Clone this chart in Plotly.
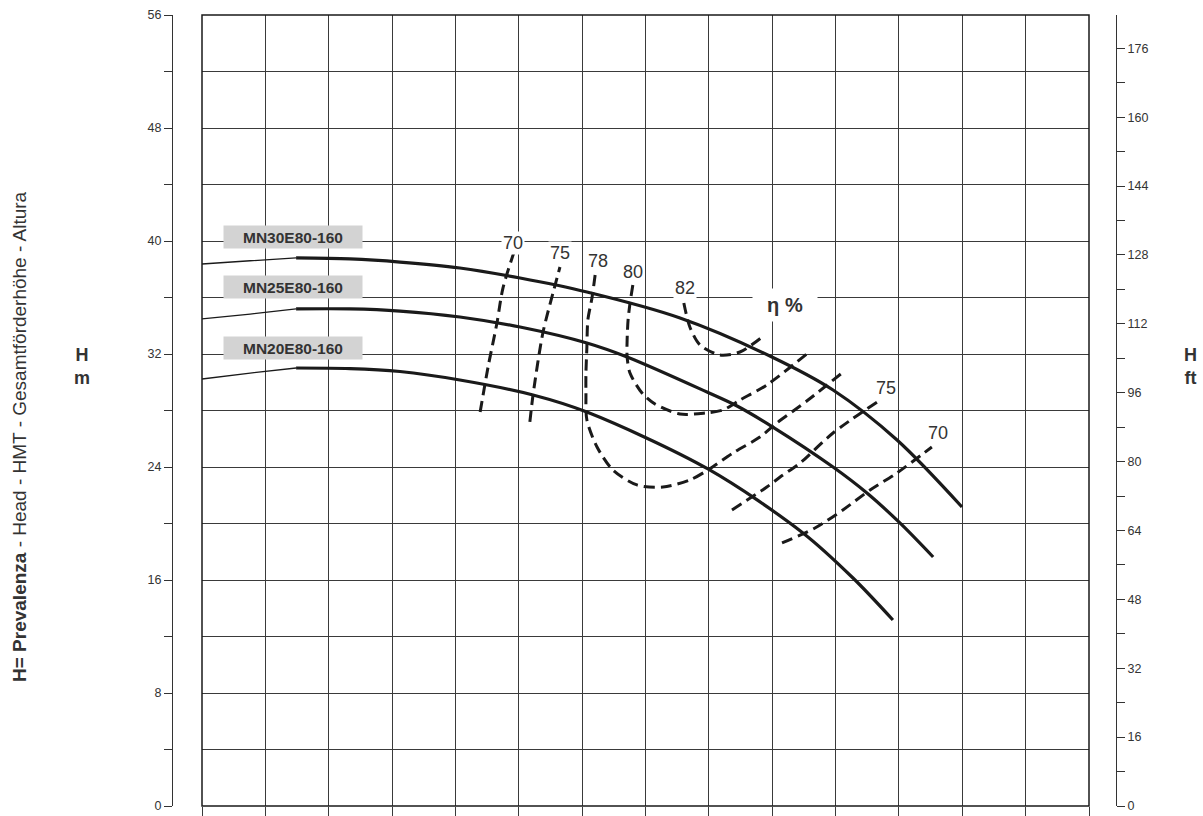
import plotly.graph_objects as go

# ---------------- data (Q in m3/h, H in m) ----------------
models = ["MN30E80-160", "MN25E80-160", "MN20E80-160"]

q_mn30 = [0, 15.2, 29.7, 46.7, 62.5, 81.4, 100.4, 121.5, 150.9, 179.9, 199.2, 219.4, 239.9]
h_mn30 = [38.37, 38.60, 38.80, 38.73, 38.51, 38.09, 37.38, 36.39, 34.55, 31.79, 29.45, 25.91, 21.17]

q_mn25 = [0, 15.2, 29.7, 46.7, 62.5, 81.4, 100.4, 121.5, 134.2, 159.4, 168.9, 180.2, 199.2, 209.9, 220.3, 230.8]
h_mn25 = [34.48, 34.83, 35.19, 35.19, 35.04, 34.62, 33.91, 32.78, 31.79, 29.31, 28.32, 26.83, 24.00, 22.16, 20.04, 17.63]

q_mn20 = [0, 15.2, 29.7, 46.7, 62.5, 81.4, 104.5, 121.5, 159.7, 189.7, 205.5, 218.1]
h_mn20 = [30.23, 30.65, 31.01, 30.97, 30.76, 30.16, 29.10, 27.89, 23.86, 19.33, 16.14, 13.17]

# efficiency iso-lines
q_eff70a = [87.8, 90.3, 93.1, 95.0, 98.5]
h_eff70a = [27.89, 31.08, 34.19, 36.67, 39.22]
q_eff75a = [103.5, 104.5, 107.6, 110.8, 113.0]
h_eff75a = [27.19, 29.10, 33.49, 36.32, 38.16]
q_eff78 = [124.1, 123.1, 121.8, 121.5, 121.2, 121.2, 121.5, 124.7, 129.7, 137.3, 145.5, 154.0, 159.7, 167.6, 176.1, 181.5, 191.3, 202.0]
h_eff78 = [37.59, 35.96, 34.41, 32.50, 30.65, 29.24, 27.33, 25.42, 23.79, 22.73, 22.58, 23.08, 23.79, 24.99, 26.12, 27.12, 28.74, 30.65]
q_eff80 = [136.0, 135.1, 134.5, 134.2, 134.2, 135.1, 138.9, 143.0, 150.9, 158.8, 164.5, 169.8, 178.3, 191.3]
h_eff80 = [36.88, 35.58, 34.41, 32.99, 31.79, 30.65, 29.24, 28.46, 27.75, 27.82, 28.04, 28.74, 29.81, 32.07]
q_eff82 = [152.1, 154.0, 157.2, 163.5, 169.8, 176.8]
h_eff82 = [35.61, 33.91, 32.64, 31.93, 32.14, 33.20]
q_eff75b = [167.3, 178.3, 182.5, 188.8, 199.2, 213.1]
h_eff75b = [20.96, 22.58, 23.29, 24.28, 26.41, 28.60]
q_eff70b = [183.1, 193.5, 202.3, 210.9, 219.4, 230.4]
h_eff70b = [18.62, 19.68, 20.96, 22.37, 23.58, 25.42]

eff_labels = ["70", "75", "78", "80", "82", "η %", "75", "70"]
eff_label_q = [98.2, 113.0, 125.0, 136.0, 152.5, 184.0, 215.9, 232.3]
eff_label_h = [39.86, 39.15, 38.58, 37.80, 36.67, 35.47, 29.59, 26.41]

model_label_q = [28.7, 28.7, 28.7]
model_label_h = [40.28, 36.74, 32.46]

h_range_m = [0, 56]
m_to_ft = 3.28084
q_range = [0, 280]

# ---------------- figure ----------------
INK = "#1a1a1a"
GRID = "#3a3a3a"
TXT = "#333333"
FONT = "Liberation Sans, Arial, sans-serif"

fig = go.Figure()

for q, h in [(q_mn30, h_mn30), (q_mn25, h_mn25), (q_mn20, h_mn20)]:
    fig.add_trace(go.Scatter(x=q[:3], y=h[:3], mode="lines",
                             line=dict(color=INK, width=1.3, shape="spline", smoothing=0.8),
                             hoverinfo="skip", showlegend=False))
    fig.add_trace(go.Scatter(x=q[2:], y=h[2:], mode="lines",
                             line=dict(color=INK, width=3.2, shape="spline", smoothing=0.9),
                             hoverinfo="skip", showlegend=False))

for q, h in [(q_eff70a, h_eff70a), (q_eff75a, h_eff75a), (q_eff78, h_eff78), (q_eff80, h_eff80),
             (q_eff82, h_eff82), (q_eff75b, h_eff75b), (q_eff70b, h_eff70b)]:
    fig.add_trace(go.Scatter(x=q, y=h, mode="lines",
                             line=dict(color=INK, width=3, dash="11px,6px", shape="spline", smoothing=0.8),
                             hoverinfo="skip", showlegend=False))

# dummy trace for the right (ft) axis
fig.add_trace(go.Scatter(x=[None], y=[None], yaxis="y2", showlegend=False, hoverinfo="skip"))

annotations = []
for name, q, h in zip(models, model_label_q, model_label_h):
    annotations.append(dict(x=q, y=h, xref="x", yref="y", text="<b>" + name + "</b>", showarrow=False,
                            bgcolor="#d3d3d3", width=136, height=20,
                            font=dict(family=FONT, size=15.5, color=TXT)))
for t, q, h in zip(eff_labels, eff_label_q, eff_label_h):
    if t.startswith("η"):
        annotations.append(dict(x=q, y=h, xref="x", yref="y", text="<b>" + t + "</b>", showarrow=False,
                                bgcolor="white", width=62, height=30,
                                font=dict(family=FONT, size=20, color=TXT)))
    else:
        annotations.append(dict(x=q, y=h, xref="x", yref="y", text=t, showarrow=False,
                                bgcolor="white", borderpad=1,
                                font=dict(family=FONT, size=18, color=TXT)))

annotations.append(dict(x=-0.161, y=0.4665, xref="paper", yref="paper", textangle=-90, showarrow=False,
                        xanchor="center", yanchor="middle",
                        text="<b>H= Prevalenza</b> - Head - HMT - Gesamtförderhöhe - Altura",
                        font=dict(family="Liberation Sans Narrow, Arial Narrow, " + FONT, size=19, color=TXT)))
annotations.append(dict(x=-0.0953, y=0.555, xref="paper", yref="paper", showarrow=False,
                        xanchor="center", yanchor="middle",
                        text="<b>H</b><br><b>m</b>",
                        font=dict(family=FONT, size=18, color=TXT)))
annotations.append(dict(x=1.0784, y=0.555, xref="paper", yref="paper", showarrow=False,
                        xanchor="center", yanchor="middle",
                        text="<b>H</b><br><b>ft</b>",
                        font=dict(family=FONT, size=18, color=TXT)))

fig.update_layout(
    width=1203, height=816,
    margin=dict(l=172, r=87, t=15, b=10, autoexpand=False),
    paper_bgcolor="white", plot_bgcolor="white",
    showlegend=False,
    annotations=annotations,
    xaxis=dict(range=q_range, domain=[30 / 944, 917 / 944], dtick=20, showgrid=True, gridcolor=GRID, gridwidth=1,
               showticklabels=False, ticks="outside", ticklen=12, tickcolor=GRID, tickwidth=1,
               zeroline=False, showline=False, anchor="y", automargin=False),
    yaxis=dict(range=h_range_m, anchor="free", position=0, side="left", dtick=8, showgrid=True,
               gridcolor=GRID, gridwidth=1, ticks="outside", ticklen=8, tickcolor=TXT, tickwidth=1,
               minor=dict(dtick=4, showgrid=True, gridcolor=GRID, gridwidth=1, ticks="outside", ticklen=8,
                          tickcolor=TXT),
               showline=True, linecolor=TXT, linewidth=1, zeroline=False, automargin=False,
               tickfont=dict(family=FONT, size=12.5, color=TXT)),
    yaxis2=dict(range=[h_range_m[0] * m_to_ft, h_range_m[1] * m_to_ft], overlaying="y", anchor="free",
                position=1, side="right", dtick=16, showgrid=False, ticks="outside", ticklen=8,
                tickcolor=TXT, tickwidth=1,
                minor=dict(dtick=8, ticks="outside", ticklen=8, tickcolor=TXT, showgrid=False),
                showline=True, linecolor=TXT, linewidth=1, zeroline=False, automargin=False,
                tickfont=dict(family=FONT, size=12.5, color=TXT)),
    shapes=[dict(type="rect", xref="x domain", yref="y domain", x0=0, x1=1, y0=0, y1=1,
                 line=dict(color=INK, width=1.5), layer="above")],
)

fig.write_html("out.html", config={"displayModeBar": False},
               post_script="document.body.style.margin='0';document.body.style.overflow='hidden';")
